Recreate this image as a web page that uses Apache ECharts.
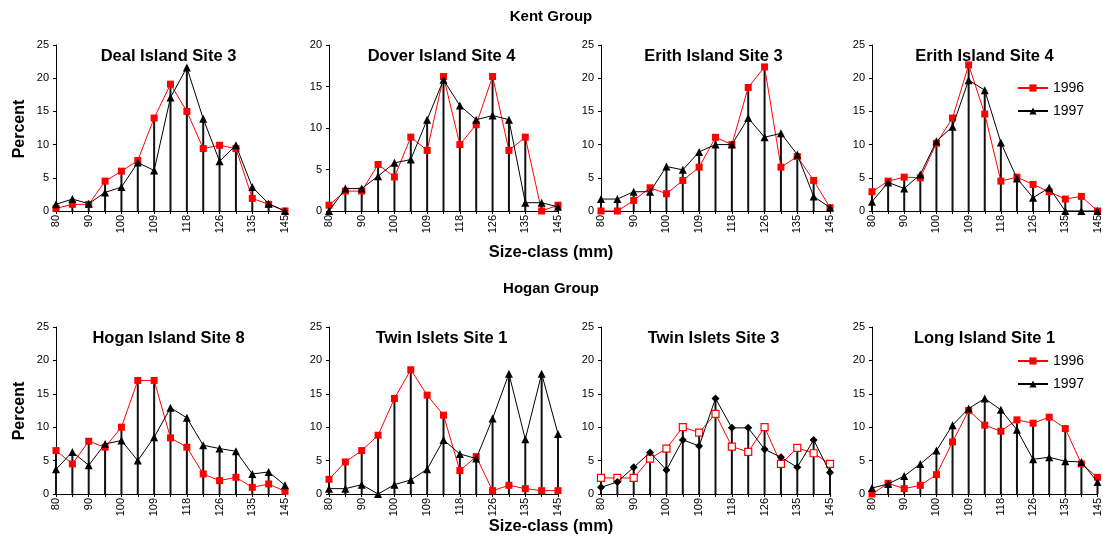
<!DOCTYPE html>
<html>
<head>
<meta charset="utf-8">
<script src="https://cdn.jsdelivr.net/npm/echarts@6/dist/echarts.min.js"></script>
<style>
  html, body { margin: 0; padding: 0; background: #fff; }
  #main { width: 1103px; height: 546px; }
</style>
</head>
<body>
<div id="main"></div>
<script>
// size classes (mm), only every other one is labelled
const sizeClasses = ['80', '85', '90', '95', '100', '105', '109', '113', '118', '122', '126', '130', '135', '140', '145'];

// Kent Group
const deal1996 = [0.4, 1.0, 1.0, 4.5, 6.0, 7.6, 14.0, 19.1, 15.0, 9.4, 9.9, 9.4, 1.9, 1.0, 0];
const deal1997 = [1.0, 1.8, 1.1, 2.8, 3.6, 7.3, 6.1, 17.1, 21.6, 13.9, 7.5, 9.9, 3.6, 1.1, 0];
const dover1996 = [0.7, 2.4, 2.4, 5.6, 4.1, 8.9, 7.3, 16.2, 8.0, 10.4, 16.2, 7.3, 8.9, 0, 0.7];
const dover1997 = [0, 2.7, 2.7, 4.2, 5.8, 6.2, 11.0, 15.8, 12.7, 11.0, 11.5, 11.0, 1.0, 1.0, 0.5];
const erith3_1996 = [0, 0, 1.6, 3.5, 2.6, 4.6, 6.6, 11.1, 10.0, 18.6, 21.7, 6.6, 8.2, 4.6, 0.5];
const erith3_1997 = [1.8, 1.8, 2.9, 2.9, 6.7, 6.2, 8.9, 10.0, 10.0, 14.0, 11.1, 11.7, 8.5, 2.2, 0.5];
const erith4_1996 = [2.9, 4.5, 5.1, 5.0, 10.2, 14.0, 22.0, 14.6, 4.5, 5.1, 4.0, 2.9, 1.8, 2.2, 0];
const erith4_1997 = [1.4, 4.3, 3.4, 5.5, 10.5, 12.7, 19.7, 18.2, 10.3, 4.9, 2.0, 3.5, 0, 0, 0];

// Hogan Group
const hogan1996 = [6.5, 4.5, 7.9, 7.0, 10.0, 17.0, 17.0, 8.4, 7.0, 3.0, 2.0, 2.5, 1.0, 1.5, 0.4];
const hogan1997 = [3.7, 6.3, 4.3, 7.5, 8.0, 5.0, 8.5, 12.9, 11.4, 7.3, 6.8, 6.4, 3.0, 3.3, 1.3];
const twin1_1996 = [2.2, 4.8, 6.5, 8.8, 14.3, 18.6, 14.8, 11.8, 3.5, 5.6, 0.5, 1.3, 0.8, 0.5, 0.5];
const twin1_1997 = [0.8, 0.8, 1.4, 0, 1.4, 2.1, 3.7, 8.1, 6.0, 5.3, 11.3, 18.0, 8.2, 18.0, 9.0];
const twin3_1996 = [2.4, 2.4, 2.4, 5.3, 6.8, 10.0, 9.2, 12.0, 7.1, 6.3, 10.0, 4.5, 6.9, 6.1, 4.5];
const twin3_1997 = [1.0, 1.8, 4.0, 6.2, 3.6, 8.1, 7.2, 14.3, 9.9, 9.9, 6.7, 5.5, 4.0, 8.1, 3.2];
const long1996 = [0, 1.6, 0.8, 1.3, 2.9, 7.8, 12.5, 10.3, 9.4, 11.1, 10.6, 11.5, 9.8, 4.5, 2.5];
const long1997 = [0.9, 1.5, 2.7, 4.5, 6.5, 10.3, 12.8, 14.3, 12.6, 9.6, 5.2, 5.5, 4.9, 4.8, 1.8];

const panels = [
  { title: 'Deal Island Site 3', a: deal1996, b: deal1997, max: 25 },
  { title: 'Dover Island Site 4', a: dover1996, b: dover1997, max: 20 },
  { title: 'Erith Island Site 3', a: erith3_1996, b: erith3_1997, max: 25 },
  { title: 'Erith Island Site 4', a: erith4_1996, b: erith4_1997, max: 25 },
  { title: 'Hogan Island Site 8', a: hogan1996, b: hogan1997, max: 25 },
  { title: 'Twin Islets Site 1', a: twin1_1996, b: twin1_1997, max: 25 },
  { title: 'Twin Islets Site 3', a: twin3_1996, b: twin3_1997, max: 25, open: true },
  { title: 'Long Island Site 1', a: long1996, b: long1997, max: 25 }
];

const colLeft = [56, 329, 601, 872];
const colWidth = 229;
const rowTop = [45, 327];
const rowHeight = [166, 167];
const FONT = 'Liberation Sans, Arial, sans-serif';

const chart = echarts.init(document.getElementById('main'));

const grid = [], xAxis = [], yAxis = [], series = [], title = [];
panels.forEach(function (p, i) {
  const r = Math.floor(i / 4), c = i % 4;
  grid.push({ left: colLeft[c], top: rowTop[r], width: colWidth, height: rowHeight[r] });
  title.push({
    text: p.title,
    left: colLeft[c] + colWidth / 2 - 7,
    top: rowTop[r] - 2,
    textAlign: 'center',
    textStyle: { fontFamily: FONT, fontSize: 16.5, fontWeight: 'bold', color: '#000' }
  });
  xAxis.push({
    type: 'category', gridIndex: i, data: sizeClasses, boundaryGap: false,
    axisLine: { lineStyle: { color: '#000', width: 1 } },
    axisTick: { show: true, interval: 0, length: 3, lineStyle: { color: '#000' } },
    axisLabel: { interval: 1, rotate: 90, margin: 4, fontSize: 11, color: '#000', fontFamily: FONT }
  });
  yAxis.push({
    type: 'value', gridIndex: i, min: 0, max: p.max, interval: 5,
    splitLine: { show: false },
    axisLine: { show: true, lineStyle: { color: '#000', width: 1 } },
    axisTick: { show: true, length: 3, lineStyle: { color: '#000' } },
    axisLabel: { fontSize: 11, color: '#000', fontFamily: FONT, margin: 7 }
  });
  // drop lines from the higher of the two points down to the axis
  series.push({
    type: 'bar', xAxisIndex: i, yAxisIndex: i, barWidth: 2, silent: true, z: 1,
    itemStyle: { color: '#111' },
    data: p.a.map(function (v, k) { return Math.max(v, p.b[k]); })
  });
  series.push({
    name: '1996', type: 'line', xAxisIndex: i, yAxisIndex: i, z: 3,
    symbol: 'rect', symbolSize: 7,
    lineStyle: { color: '#ff0000', width: 1 },
    itemStyle: p.open ? { color: '#fff', borderColor: '#ff0000', borderWidth: 1.2 } : { color: '#ff0000' },
    data: p.a
  });
  series.push({
    name: '1997', type: 'line', xAxisIndex: i, yAxisIndex: i, z: 4,
    symbol: p.open ? 'diamond' : 'triangle', symbolSize: 8,
    lineStyle: { color: '#000', width: 1 },
    itemStyle: { color: '#000' },
    data: p.b
  });
});

const boldText = function (text, x, y, size, rot) {
  return {
    type: 'text', x: x, y: y, rotation: rot || 0,
    style: { text: text, fontFamily: FONT, fontSize: size, fontWeight: 'bold', fill: '#000', textAlign: 'center', textVerticalAlign: 'middle' }
  };
};

const legendStyle = { fontFamily: FONT, fontSize: 14, color: '#000' };

chart.setOption({
  animation: false,
  title: title,
  grid: grid,
  xAxis: xAxis,
  yAxis: yAxis,
  legend: [
    { data: ['1996', '1997'], orient: 'vertical', left: 1012, top: 76, itemWidth: 30, itemHeight: 9, itemGap: 9, textStyle: legendStyle },
    { data: ['1996', '1997'], orient: 'vertical', left: 1012, top: 349, itemWidth: 30, itemHeight: 9, itemGap: 9, textStyle: legendStyle }
  ],
  graphic: [
    boldText('Kent Group', 551, 17, 15),
    boldText('Hogan Group', 551, 289, 15),
    boldText('Size-class (mm)', 551, 252, 16.5),
    boldText('Size-class (mm)', 551, 526, 16.5),
    boldText('Percent', 20, 129, 16, Math.PI / 2),
    boldText('Percent', 20, 411, 16, Math.PI / 2)
  ],
  series: series
});
</script>
</body>
</html>
